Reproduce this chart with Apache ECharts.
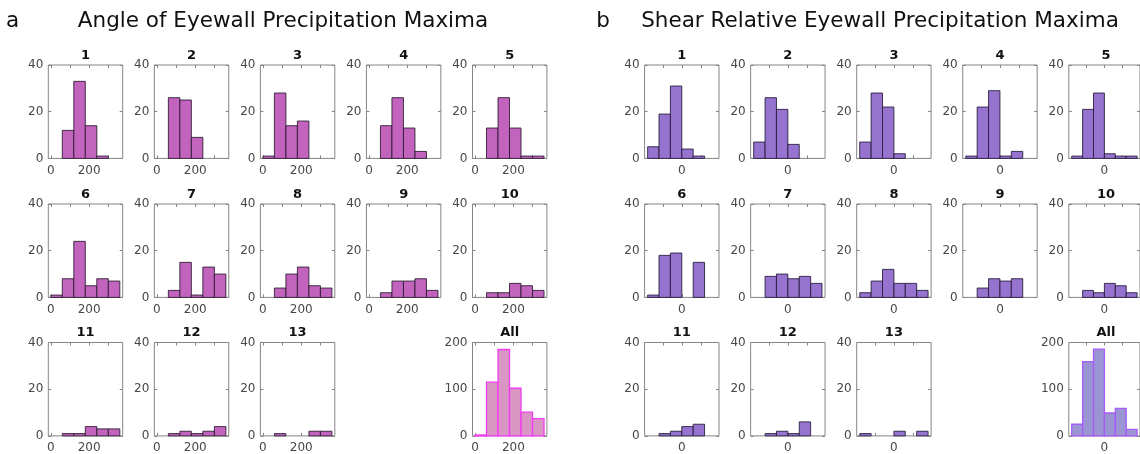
<!DOCTYPE html>
<html>
<head>
<meta charset="utf-8">
<script src="https://cdn.jsdelivr.net/npm/echarts@6/dist/echarts.min.js"></script>
<style>
  html, body { margin: 0; padding: 0; background: #ffffff; }
  #chart { width: 1140px; height: 454px; }
</style>
</head>
<body>
<div id="chart"></div>
<script>
// ---- data -------------------------------------------------------------
const panelNames = ['1', '2', '3', '4', '5', '6', '7', '8', '9', '10', '11', '12', '13'];
const allPanelName = 'All';

// histogram bin edges (degrees)
const angleBinEdges = [0, 60, 120, 180, 240, 300, 360];
const shearBinEdges = [-180, -120, -60, 0, 60, 120, 180];

// counts per bin, panels 1..13 — angle of eyewall precipitation maxima
const angleCounts = [
  [0, 12, 33, 14, 1, 0],
  [0, 26, 25, 9, 0, 0],
  [1, 28, 14, 16, 0, 0],
  [0, 14, 26, 13, 3, 0],
  [0, 13, 26, 13, 1, 1],
  [1, 8, 24, 5, 8, 7],
  [0, 3, 15, 1, 13, 10],
  [0, 4, 10, 13, 5, 4],
  [0, 2, 7, 7, 8, 3],
  [0, 2, 2, 6, 5, 3],
  [0, 1, 1, 4, 3, 3],
  [0, 1, 2, 1, 2, 4],
  [0, 1, 0, 0, 2, 2]
];
const angleCountsAll = [2, 115, 185, 102, 51, 37];

// counts per bin, panels 1..13 — shear relative angle
const shearCounts = [
  [5, 19, 31, 4, 1, 0],
  [7, 26, 21, 6, 0, 0],
  [7, 28, 22, 2, 0, 0],
  [1, 22, 29, 1, 3, 0],
  [1, 21, 28, 2, 1, 1],
  [1, 18, 19, 0, 15, 0],
  [0, 9, 10, 8, 9, 6],
  [2, 7, 12, 6, 6, 3],
  [0, 4, 8, 7, 8, 0],
  [0, 3, 2, 6, 5, 2],
  [0, 1, 2, 4, 5, 0],
  [0, 1, 2, 1, 6, 0],
  [1, 0, 0, 2, 0, 2]
];
const shearCountsAll = [25, 159, 186, 49, 59, 14];

// axis ticks
const countTicks = [0, 20, 40];
const allCountTicks = [0, 100, 200];
const angleTicks = [0, 100, 200, 300];
const angleTickLabels = [0, 200];
const shearTicks = [-100, 0, 100];
const shearTickLabels = [0];

// ---- layout & style ---------------------------------------------------
const FONT = 'DejaVu Sans';
const BOX_W = 74.4, BOX_H = 93.4;
const COL_STEP = 106.05;
const ROW_TOPS = [65, 204, 342.5];
const SIDE_A_LEFT = 48.3, SIDE_B_LEFT = 644.6;
const BOX_COLOR = '#858585';
const LABEL_COLOR = '#474747';

const sides = [
  {
    left: SIDE_A_LEFT, edges: angleBinEdges, counts: angleCounts, countsAll: angleCountsAll,
    xMin: -13, xMax: 375, ticks: angleTicks, tickLabels: angleTickLabels,
    fill: '#c264be', stroke: 'rgba(40,25,45,0.85)',
    allFill: '#d995c4', allStroke: '#f23cf0'
  },
  {
    left: SIDE_B_LEFT, edges: shearBinEdges, counts: shearCounts, countsAll: shearCountsAll,
    xMin: -196, xMax: 196, ticks: shearTicks, tickLabels: shearTickLabels,
    fill: '#9573cf', stroke: 'rgba(35,25,55,0.85)',
    allFill: '#9c95d3', allStroke: '#a65cf6'
  }
];

const grids = [], xAxes = [], yAxes = [], series = [], graphics = [];

function histRenderer(fill, stroke, lw) {
  return function (params, api) {
    const lo = api.coord([api.value(0), 0]);
    const hi = api.coord([api.value(1), api.value(2)]);
    return {
      type: 'rect',
      shape: { x: lo[0], y: hi[1], width: hi[0] - lo[0], height: lo[1] - hi[1] },
      style: { fill: fill, stroke: stroke, lineWidth: lw }
    };
  };
}

function addPanel(side, row, col, name, counts, yMax, yTicks, isAll) {
  const g = grids.length;
  const left = side.left + col * COL_STEP;
  const top = ROW_TOPS[row];
  grids.push({
    left: left, top: top, width: BOX_W, height: BOX_H,
    show: true, borderColor: BOX_COLOR, borderWidth: 1, backgroundColor: '#ffffff',
    containLabel: false
  });
  const tickStyle = { show: true, inside: true, length: 3, lineStyle: { color: BOX_COLOR, width: 1 } };
  const noLine = { show: false, onZero: false };
  xAxes.push({
    gridIndex: g, type: 'value', position: 'bottom', min: side.xMin, max: side.xMax,
    axisLine: noLine, splitLine: { show: false },
    axisTick: Object.assign({}, tickStyle, { customValues: side.ticks }),
    axisLabel: { customValues: side.tickLabels, margin: 6, color: LABEL_COLOR, fontSize: 12, fontFamily: FONT }
  });
  xAxes.push({
    gridIndex: g, type: 'value', position: 'top', min: side.xMin, max: side.xMax,
    axisLine: noLine, splitLine: { show: false },
    axisTick: Object.assign({}, tickStyle, { customValues: side.ticks }),
    axisLabel: { show: false }
  });
  yAxes.push({
    gridIndex: g, type: 'value', position: 'left', min: 0, max: yMax,
    axisLine: noLine, splitLine: { show: false },
    axisTick: Object.assign({}, tickStyle, { customValues: yTicks }),
    axisLabel: { customValues: yTicks, margin: 5, color: LABEL_COLOR, fontSize: 12, fontFamily: FONT }
  });
  yAxes.push({
    gridIndex: g, type: 'value', position: 'right', min: 0, max: yMax,
    axisLine: noLine, splitLine: { show: false },
    axisTick: Object.assign({}, tickStyle, { customValues: yTicks }),
    axisLabel: { show: false }
  });

  const data = [];
  counts.forEach(function (c, i) {
    if (c > 0) data.push([side.edges[i], side.edges[i + 1], c]);
  });
  series.push({
    type: 'custom', silent: true,
    xAxisIndex: 2 * g, yAxisIndex: 2 * g,
    encode: { x: [0, 1], y: 2 },
    renderItem: isAll
      ? histRenderer(side.allFill, side.allStroke, 1.3)
      : histRenderer(side.fill, side.stroke, 1),
    data: data
  });

  graphics.push({
    type: 'text', x: left + BOX_W / 2, y: top - 9.5,
    style: {
      text: name, align: 'center', verticalAlign: 'middle',
      font: 'bold 13px "' + FONT + '"', fill: '#111111'
    }
  });
}

sides.forEach(function (side) {
  panelNames.forEach(function (name, i) {
    addPanel(side, Math.floor(i / 5), i % 5, name, side.counts[i], 40, countTicks, false);
  });
  addPanel(side, 2, 4, allPanelName, side.countsAll, 200, allCountTicks, true);
});

// figure headings
const headings = [
  { text: 'a', x: 12.7 },
  { text: 'Angle of Eyewall Precipitation Maxima', x: 283 },
  { text: 'b', x: 603 },
  { text: 'Shear Relative Eyewall Precipitation Maxima', x: 880 }
];
headings.forEach(function (h) {
  graphics.push({
    type: 'text', x: h.x, y: 21,
    style: {
      text: h.text, align: 'center', verticalAlign: 'middle',
      font: '21.5px "' + FONT + '"', fill: '#111111'
    }
  });
});

const chart = echarts.init(document.getElementById('chart'), null, { renderer: 'canvas' });
chart.setOption({
  animation: false,
  backgroundColor: '#ffffff',
  grid: grids,
  xAxis: xAxes,
  yAxis: yAxes,
  series: series,
  graphic: graphics
});
</script>
</body>
</html>
